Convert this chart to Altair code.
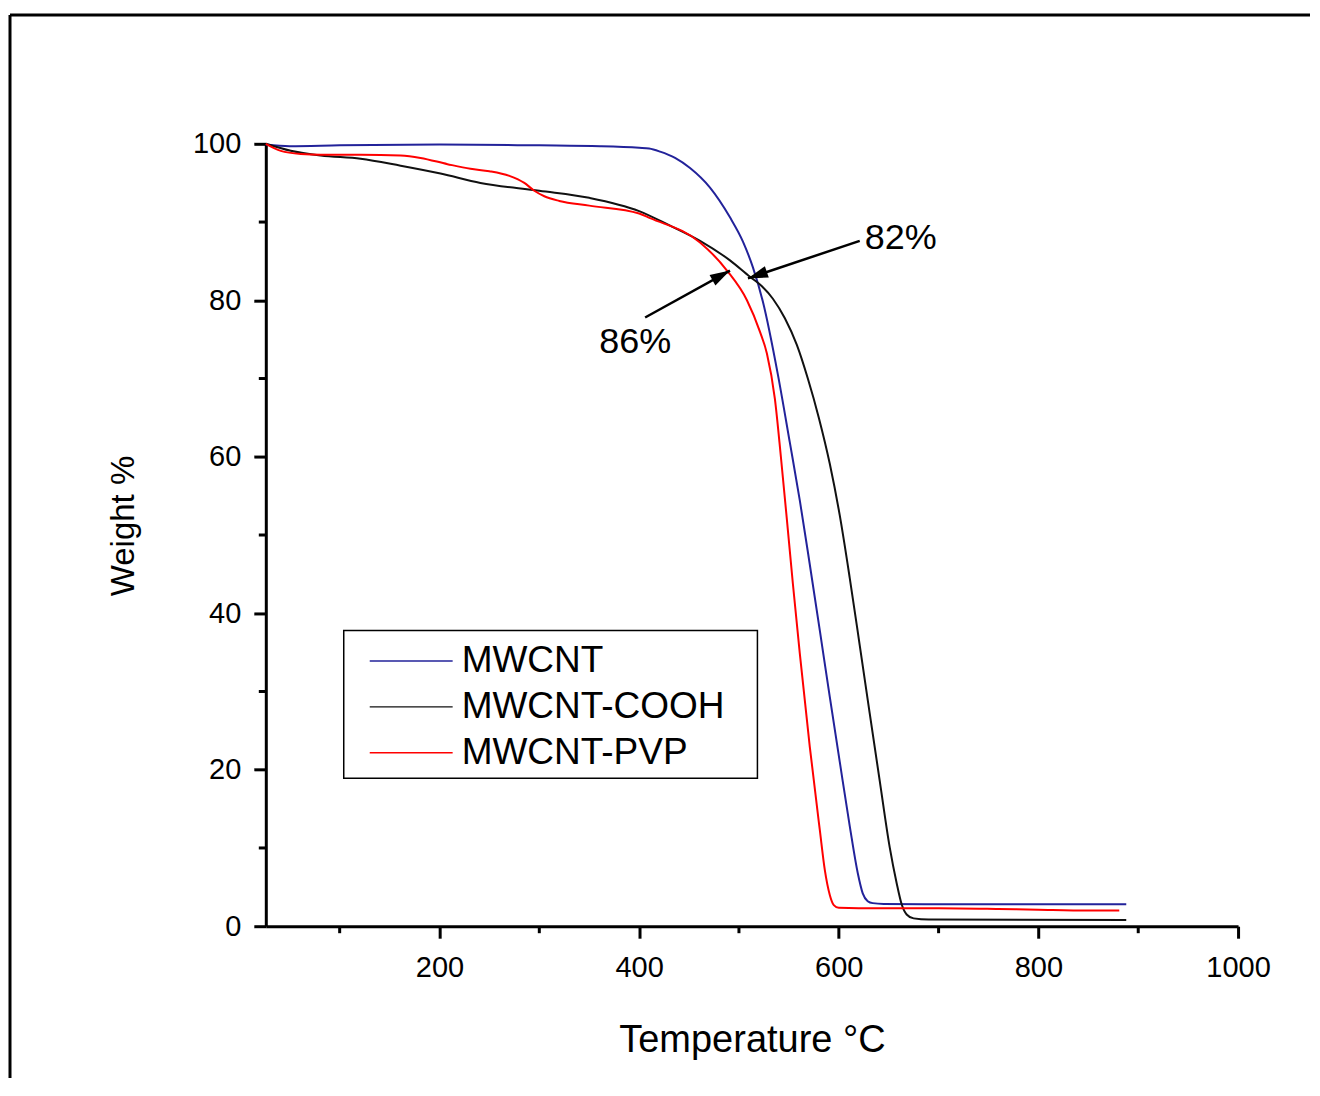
import altair as alt
import pandas as pd

FONT = "Liberation Sans"

names = ["MWCNT", "MWCNT-COOH", "MWCNT-PVP"]
colors = ["#22229A", "#111111", "#FF0000"]

mwcnt_t = [26, 50, 100, 200, 300, 361, 400, 410, 421, 436, 451, 471, 491, 504, 514, 524, 539, 551, 561, 571, 581, 591, 601, 611, 619, 624, 629, 634, 645, 700, 888]
mwcnt_w = [99.9, 99.7, 99.8, 99.9, 99.8, 99.7, 99.5, 99.4, 99.0, 98.2, 96.9, 94.4, 90.6, 87.5, 84.2, 79.8, 70.5, 61.8, 54.4, 46.2, 37.8, 29.3, 21.0, 12.8, 6.8, 4.2, 3.2, 2.95, 2.85, 2.8, 2.8]

cooh_t = [26, 51, 81, 121, 161, 201, 241, 300, 350, 400, 430, 461, 491, 511, 523, 534, 546, 558, 569, 580, 591, 601, 611, 621, 631, 641, 651, 658, 663, 668, 675, 690, 888]
cooh_w = [100, 99.1, 98.5, 98.1, 97.2, 96.2, 95.0, 94.0, 93.1, 91.4, 89.6, 87.6, 85.1, 83.0, 81.8, 80.2, 77.7, 74.3, 70.0, 65.0, 59.1, 52.5, 44.5, 35.9, 27.2, 18.6, 10.1, 5.5, 2.8, 1.5, 1.0, 0.85, 0.8]

pvp_t = [26, 41, 61, 81, 121, 161, 181, 208, 231, 250, 270, 285, 295, 305, 320, 350, 400, 411, 461, 488, 508, 521, 528, 536, 542, 548, 554, 561, 571, 581, 586, 591, 595, 600, 620, 700, 760, 800, 850, 881]
pvp_w = [100, 99.1, 98.7, 98.6, 98.6, 98.5, 98.2, 97.4, 96.8, 96.5, 95.9, 95.0, 94.0, 93.3, 92.7, 92.1, 91.1, 90.5, 87.4, 83.8, 80.0, 76.0, 73.2, 67.4, 60.0, 52.0, 43.8, 34.8, 22.9, 12.3, 7.2, 4.0, 2.7, 2.35, 2.3, 2.3, 2.2, 2.1, 2.0, 2.0]

x_major = [200, 400, 600, 800, 1000]
x_minor = [100, 300, 500, 700, 900]
y_major = [0, 20, 40, 60, 80, 100]
y_minor = [10, 30, 50, 70, 90]

# annotations: arrows (start -> tip) and labels
ann_text = ["82%", "86%"]
ann_tx = [626, 396]
ann_ty = [88.0, 74.7]
arrow_x1 = [621, 406]
arrow_y1 = [87.6, 77.8]
arrow_x2 = [509, 491]
arrow_y2 = [82.8, 83.8]
arrow_angle = [251, 61]

rows = []
for n, ts, ws in [(names[0], mwcnt_t, mwcnt_w), (names[1], cooh_t, cooh_w), (names[2], pvp_t, pvp_w)]:
    for t, w in zip(ts, ws):
        rows.append({"series": n, "T": t, "W": w})
df = pd.DataFrame(rows)

W, H = 973, 783

xscale = alt.Scale(domain=[26, 1000], nice=False, zero=False)
yscale = alt.Scale(domain=[0, 100], nice=False)

xaxis = alt.Axis(values=x_major, format="d", title="Temperature °C", titleFontSize=38, labelFontSize=29,
                 tickSize=12, tickWidth=3, domainWidth=3, domainColor="black", tickColor="black",
                 labelColor="black", titleColor="black", grid=False, labelPadding=15, titlePadding=39,
                 titleFontWeight="normal", labelFont=FONT, titleFont=FONT, labelFlush=False)
yaxis = alt.Axis(values=y_major, format="d", title="Weight %", titleFontSize=33, labelFontSize=29,
                 tickSize=12, tickWidth=3, domainWidth=3, domainColor="black", tickColor="black",
                 labelColor="black", titleColor="black", grid=False, labelPadding=13, titlePadding=52,
                 titleFontWeight="normal", labelFont=FONT, titleFont=FONT, labelFlush=False, titleY=382)

lines = alt.Chart(df).mark_line(strokeWidth=2, interpolate="monotone").encode(
    x=alt.X("T:Q", scale=xscale, axis=xaxis),
    y=alt.Y("W:Q", scale=yscale, axis=yaxis),
    color=alt.Color("series:N", scale=alt.Scale(domain=names, range=colors),
                    legend=alt.Legend(title=None, orient="none", legendX=78, legendY=487)),
    order=alt.Order("T:Q"),
)

# legend frame
one = pd.DataFrame({"a": [0]})
legend_box = alt.Chart(one).mark_rect(filled=False, stroke="black", strokeWidth=1.5).encode(
    x=alt.value(78), x2=alt.value(492), y=alt.value(487), y2=alt.value(635))

xm = alt.Chart(pd.DataFrame({"v": x_minor})).mark_rule(strokeWidth=3, color="black").encode(
    x=alt.X("v:Q", scale=xscale), y=alt.value(H), y2=alt.value(H + 7))
ym = alt.Chart(pd.DataFrame({"v": y_minor})).mark_rule(strokeWidth=3, color="black").encode(
    y=alt.Y("v:Q", scale=yscale), x=alt.value(-7), x2=alt.value(0))

adf = pd.DataFrame({"x1": arrow_x1, "y1": arrow_y1, "x2": arrow_x2, "y2": arrow_y2, "ang": arrow_angle})
arrows = alt.Chart(adf).mark_rule(strokeWidth=2.5, color="black").encode(
    x=alt.X("x1:Q", scale=xscale), y=alt.Y("y1:Q", scale=yscale), x2="x2:Q", y2="y2:Q")
heads = alt.Chart(adf).mark_point(shape="M0,0L-0.3,1L0.3,1Z", size=1600, filled=True, color="black", opacity=1,
                                  strokeWidth=0).encode(
    x=alt.X("x2:Q", scale=xscale), y=alt.Y("y2:Q", scale=yscale), angle=alt.Angle("ang:Q", scale=None))

tdf = pd.DataFrame({"t": ann_text, "x": ann_tx, "y": ann_ty})
texts_l = alt.Chart(tdf.iloc[:1]).mark_text(fontSize=36, font=FONT, color="black", baseline="middle", align="left").encode(
    x=alt.X("x:Q", scale=xscale), y=alt.Y("y:Q", scale=yscale), text="t:N")
texts_c = alt.Chart(tdf.iloc[1:]).mark_text(fontSize=36, font=FONT, color="black", baseline="middle", align="center").encode(
    x=alt.X("x:Q", scale=xscale), y=alt.Y("y:Q", scale=yscale), text="t:N")

frame_top = alt.Chart(one).mark_rule(strokeWidth=3, color="black").encode(
    x=alt.value(-256), x2=alt.value(1045), y=alt.value(-129))
frame_left = alt.Chart(one).mark_rule(strokeWidth=3, color="black").encode(
    x=alt.value(-256), y=alt.value(-129), y2=alt.value(935))

chart = alt.layer(frame_top, frame_left, legend_box, lines, xm, ym, arrows, heads, texts_l, texts_c).properties(
    width=W, height=H, padding={"left": 0, "top": 4.5, "right": 0, "bottom": 0}
).configure_view(strokeWidth=0).configure_legend(
    padding=12, labelFontSize=37, labelFont=FONT, labelColor="black",
    symbolType="M-2.5,0H2.5", symbolSize=1102, symbolStrokeWidth=1.5, rowPadding=8,
    labelOffset=32, symbolOffset=37, labelLimit=500
)

chart.save("out.html", embed_options={"renderer": "svg", "actions": False})
